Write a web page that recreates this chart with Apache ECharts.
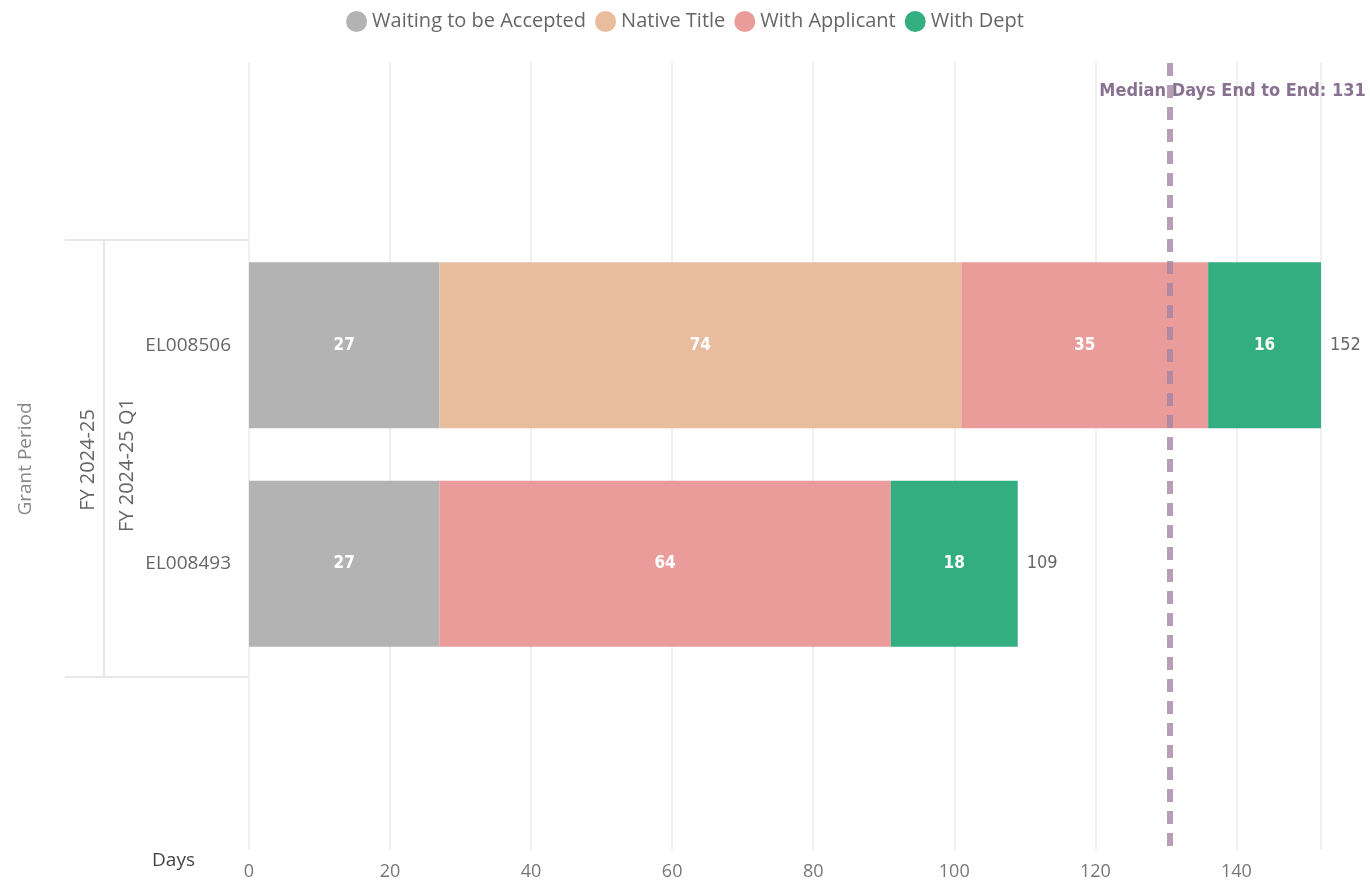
<!DOCTYPE html>
<html>
<head>
<meta charset="utf-8">
<script src="https://cdn.jsdelivr.net/npm/echarts@6/dist/echarts.min.js"></script>
<style>html,body{margin:0;padding:0;background:#fff;}#c{width:1370px;height:887px;}</style>
</head>
<body>
<div id="c"></div>
<script>
const categories = ['EL008506', 'EL008493'];
const seriesNames = ['Waiting to be Accepted', 'Native Title', 'With Applicant', 'With Dept'];
const waiting = [27, 27];
const nativeTitle = [74, '-'];
const withApplicant = [35, 64];
const withDept = [16, 18];
const medianDays = 130.5;
const xTicks = [0, 20, 40, 60, 80, 100, 120, 140];
const groupLabels = ['Grant Period', 'FY 2024-25', 'FY 2024-25 Q1'];

const colors = ['#B3B3B3', '#E9BC9E', '#EA9C9B', '#33AE81'];
const totals = categories.map((_, i) => [waiting, nativeTitle, withApplicant, withDept]
  .reduce((s, a) => s + (typeof a[i] === 'number' ? a[i] : 0), 0));

const chart = echarts.init(document.getElementById('c'));
const xMax = Math.max(...totals);
const uiFont = '"Open Sans", "Noto Sans", sans-serif';
const numFont = '"DejaVu Sans Condensed", "Liberation Sans Narrow", sans-serif';

const barLabel = {
  show: true, position: 'inside', color: '#fff', fontWeight: 'bold',
  fontFamily: numFont, fontSize: 17
};
function barSeries(name, data, idx) {
  return {
    name, type: 'bar', stack: 'days', xAxisIndex: 1, yAxisIndex: 1,
    data, barCategoryGap: '24%', itemStyle: { color: colors[idx] },
    label: barLabel
  };
}

chart.setOption({
  animation: false,
  color: colors,
  legend: {
    top: 6, left: 'center', icon: 'circle', itemWidth: 21, itemHeight: 21, itemGap: 9,
    data: seriesNames,
    textStyle: { fontFamily: uiFont, fontSize: 20, color: '#666' }
  },
  grid: [
    { left: 249, right: 49, top: 62, bottom: 37 },
    { left: 249, right: 49, top: 236, bottom: 214 }
  ],
  xAxis: [
    {
      type: 'value', gridIndex: 0, min: 0, max: xMax, interval: 20,
      name: 'Days', nameLocation: 'start', nameGap: 54,
      nameTextStyle: { fontFamily: uiFont, fontSize: 19, color: '#444', verticalAlign: 'top', padding: [1, 0, 0, 0] },
      axisLine: { show: false }, axisTick: { show: false },
      axisLabel: {
        margin: 13, color: '#777', fontFamily: uiFont, fontSize: 18, showMaxLabel: false,
        formatter: v => xTicks.includes(v) ? String(v) : ''
      },
      splitLine: { show: true, lineStyle: { color: '#ebebeb', width: 1.5 } }
    },
    {
      type: 'value', gridIndex: 1, min: 0, max: xMax, interval: 20, show: false,
      splitLine: { show: false }
    }
  ],
  yAxis: [
    { type: 'value', gridIndex: 0, min: 0, max: 100, show: false, splitLine: { show: false } },
    {
      type: 'category', gridIndex: 1, data: categories, inverse: true,
      axisLine: { show: false }, axisTick: { show: false },
      axisLabel: { margin: 18, color: '#666', fontFamily: uiFont, fontSize: 19 }
    }
  ],
  series: [
    {
      name: 'median', type: 'line', xAxisIndex: 0, yAxisIndex: 0, data: [],
      markLine: {
        symbol: 'none', silent: true,
        lineStyle: { color: '#A584A4', type: [13, 9], width: 6, opacity: 0.8 },
        label: {
          show: true, position: 'end', align: 'left', verticalAlign: 'middle',
          offset: [-70, 34],
          formatter: 'Median Days End to End: ' + Math.round(medianDays),
          color: '#6B4F74', fontFamily: numFont, fontSize: 18, fontWeight: 'bold'
        },
        data: [[{ coord: [medianDays, 0.5] }, { coord: [medianDays, 100] }]]
      }
    },
    barSeries(seriesNames[0], waiting, 0),
    barSeries(seriesNames[1], nativeTitle, 1),
    barSeries(seriesNames[2], withApplicant, 2),
    barSeries(seriesNames[3], withDept, 3),
    {
      name: 'Total', type: 'bar', stack: 'days', xAxisIndex: 1, yAxisIndex: 1,
      data: categories.map(() => 0), itemStyle: { color: 'transparent' },
      label: {
        show: true, position: 'right', distance: 9,
        formatter: p => String(totals[p.dataIndex]),
        color: '#666', fontFamily: numFont, fontSize: 18
      }
    }
  ],
  graphic: [
    { type: 'line', shape: { x1: 65, y1: 240, x2: 249, y2: 240 }, style: { stroke: '#e8e8e8', lineWidth: 2 } },
    { type: 'line', shape: { x1: 65, y1: 677, x2: 249, y2: 677 }, style: { stroke: '#e8e8e8', lineWidth: 2 } },
    { type: 'line', shape: { x1: 104, y1: 240, x2: 104, y2: 677 }, style: { stroke: '#e8e8e8', lineWidth: 2 } },
    { type: 'text', x: 26, y: 459, rotation: Math.PI / 2,
      style: { text: groupLabels[0], fill: '#888', font: '19px ' + uiFont, textAlign: 'center', textVerticalAlign: 'middle' } },
    { type: 'text', x: 88, y: 460, rotation: Math.PI / 2,
      style: { text: groupLabels[1], fill: '#666', font: '20px ' + uiFont, textAlign: 'center', textVerticalAlign: 'middle' } },
    { type: 'text', x: 127, y: 465, rotation: Math.PI / 2,
      style: { text: groupLabels[2], fill: '#666', font: '20px ' + uiFont, textAlign: 'center', textVerticalAlign: 'middle' } }
  ]
});
</script>
</body>
</html>
